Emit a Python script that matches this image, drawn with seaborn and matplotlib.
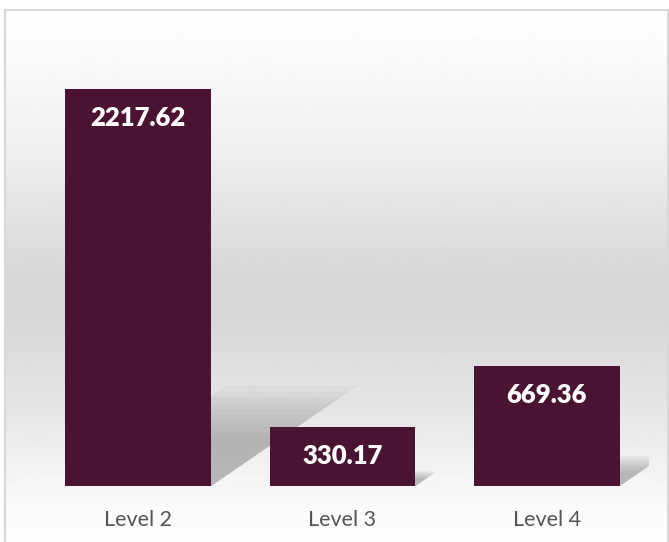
import numpy as np
import pandas as pd
import matplotlib
matplotlib.use("Agg")
import matplotlib.pyplot as plt
import seaborn as sns
from matplotlib.patches import Polygon

categories = ["Level 2", "Level 3", "Level 4"]
values = [2217.62, 330.17, 669.36]
value_labels = ["2217.62", "330.17", "669.36"]

df = pd.DataFrame({"level": categories, "value": values})

W, H = 669, 542
fig = plt.figure(figsize=(W / 100, H / 100), dpi=100)
fig.patch.set_facecolor("white")

# background gradient frame
bg = fig.add_axes([5 / W, 0, (668 - 5) / W, (H - 10) / H])
ys = np.array([0, 40, 150, 270, 300, 400, 476, 500, 532])  # px from frame top
vs = np.array([0.995, 0.985, 0.93, 0.84, 0.84, 0.90, 0.965, 0.985, 0.99])
prof = np.interp(np.arange(H - 10), ys, vs)
img = np.repeat(prof[:, None], 4, axis=1)
bg.imshow(img, cmap="gray", vmin=0, vmax=1, aspect="auto", extent=[0, 1, 0, 1],
          interpolation="bilinear")
bg.set_xticks([]); bg.set_yticks([])
for s in ["left", "right", "top"]:
    bg.spines[s].set_color("#d8d8d8"); bg.spines[s].set_linewidth(1.5)
bg.spines["bottom"].set_visible(False)

# main axes
x0, x1 = 36 / W, 649 / W
y_base = 486
y_top = 20
ax = fig.add_axes([x0, (H - y_base) / H, x1 - x0, (y_base - y_top) / H])
ax.patch.set_alpha(0)
px_per_unit = 397 / 2217.62
ymax = (y_base - y_top) / px_per_unit
ax.set_ylim(0, ymax)

bar_color = "#4a1331"
sns.barplot(data=df, x="level", y="value", color=bar_color, saturation=1,
            width=0.714, ax=ax, zorder=3)
ax.set_xlim(-0.5, 2.5)

# shadows derived from bars
px_per_x = (649 - 36) / 3
for p in list(ax.patches):
    xl = p.get_x(); w = p.get_width(); h = p.get_height()
    hpx = h * px_per_unit
    shift = 0.35 * hpx / px_per_x
    sh = 0.24 * h
    for k in range(10):
        f = 1.05 - k * 0.06
        poly = Polygon([(xl + w * 0.1, 0), (xl + w, 0),
                        (xl + w + shift * f, sh * f),
                        (xl + shift * f + w * 0.1, sh * f)],
                       closed=True, facecolor="#707070", alpha=0.055,
                       edgecolor="none", zorder=2)
        ax.add_patch(poly)

for i, (v, lab) in enumerate(zip(values, value_labels)):
    ax.annotate(lab, (i, v), xytext=(0, -21), textcoords="offset points",
                ha="center", va="center", color="white", fontsize=18.5,
                fontweight="heavy", family=["Lato", "DejaVu Sans"], zorder=5)

ax.set_xlabel(""); ax.set_ylabel("")
ax.set_yticks([])
ax.tick_params(axis="x", length=0, pad=17, labelsize=15.5, labelcolor="#555555")
for t in ax.get_xticklabels():
    t.set_family(["Lato", "DejaVu Sans"])
for s in ax.spines.values():
    s.set_visible(False)

fig.savefig("out.png", dpi=100, facecolor="white")
